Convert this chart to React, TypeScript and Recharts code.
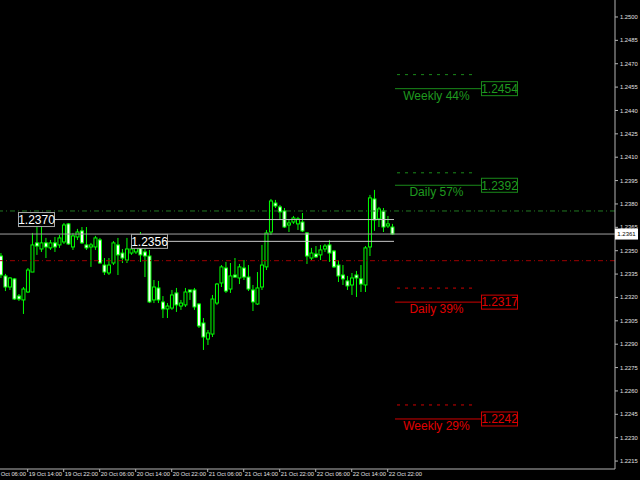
import React from 'react';
import { ComposedChart, Bar, XAxis, YAxis, ReferenceLine, ReferenceDot } from 'recharts';

// ---- candle data (hourly bars, 19 Oct 08:00 .. 22 Oct 23:00) ----
const opens = [1.23466, 1.23338, 1.23267, 1.23319, 1.23209, 1.23184, 1.23235, 1.23363, 1.23550, 1.23511,
  1.23550, 1.23518, 1.23550, 1.23537, 1.23556, 1.23672, 1.23524, 1.23588, 1.23627, 1.23537,
  1.23524, 1.23524, 1.23569, 1.23408, 1.23357, 1.23421, 1.23537, 1.23485, 1.23440, 1.23485,
  1.23492, 1.23530, 1.23492, 1.23466, 1.23184, 1.23261, 1.23171, 1.23126, 1.23132, 1.23229,
  1.23145, 1.23152, 1.23248, 1.23248, 1.23158, 1.23036, 1.22933, 1.22965, 1.23164, 1.23293,
  1.23389, 1.23254, 1.23344, 1.23325, 1.23389, 1.23331, 1.23248, 1.23158, 1.23267, 1.23396,
  1.23620, 1.23806, 1.23781, 1.23755, 1.23665, 1.23684, 1.23672, 1.23684, 1.23614, 1.23453,
  1.23479, 1.23473, 1.23511, 1.23537, 1.23498, 1.23408, 1.23344, 1.23306, 1.23280, 1.23344,
  1.23319, 1.23280, 1.23524, 1.23832, 1.23704, 1.23755, 1.23659, 1.23652];
const highs = [1.23485, 1.23351, 1.23331, 1.23325, 1.23222, 1.23267, 1.23389, 1.23614, 1.23665, 1.23678,
  1.23582, 1.23569, 1.23588, 1.23601, 1.23678, 1.23678, 1.23614, 1.23640, 1.23652, 1.23652,
  1.23550, 1.23595, 1.23582, 1.23453, 1.23453, 1.23562, 1.23582, 1.23511, 1.23582, 1.23543,
  1.23569, 1.23620, 1.23511, 1.23505, 1.23312, 1.23306, 1.23209, 1.23164, 1.23248, 1.23261,
  1.23184, 1.23261, 1.23248, 1.23261, 1.23164, 1.23068, 1.22991, 1.23216, 1.23293, 1.23408,
  1.23428, 1.23421, 1.23453, 1.23415, 1.23440, 1.23408, 1.23280, 1.23363, 1.23537, 1.23633,
  1.23832, 1.23826, 1.23794, 1.23774, 1.23697, 1.23723, 1.23717, 1.23742, 1.23620, 1.23518,
  1.23530, 1.23537, 1.23543, 1.23569, 1.23505, 1.23440, 1.23408, 1.23338, 1.23357, 1.23370,
  1.23408, 1.23530, 1.23858, 1.23890, 1.23781, 1.23774, 1.23723, 1.23672];
const lows = [1.23325, 1.23241, 1.23248, 1.23184, 1.23177, 1.23094, 1.23229, 1.23363, 1.23473, 1.23492,
  1.23453, 1.23505, 1.23492, 1.23518, 1.23543, 1.23537, 1.23505, 1.23569, 1.23543, 1.23505,
  1.23396, 1.23505, 1.23415, 1.23344, 1.23344, 1.23408, 1.23344, 1.23421, 1.23421, 1.23473,
  1.23479, 1.23428, 1.23331, 1.23164, 1.23164, 1.23164, 1.23068, 1.23068, 1.23120, 1.23107,
  1.23120, 1.23139, 1.23184, 1.23120, 1.23004, 1.22863, 1.22895, 1.22946, 1.23152, 1.23267,
  1.23229, 1.23229, 1.23325, 1.23286, 1.23312, 1.23241, 1.23113, 1.23152, 1.23248, 1.23376,
  1.23601, 1.23774, 1.23697, 1.23646, 1.23620, 1.23672, 1.23633, 1.23620, 1.23415, 1.23440,
  1.23453, 1.23440, 1.23492, 1.23428, 1.23389, 1.23299, 1.23280, 1.23248, 1.23216, 1.23203,
  1.23235, 1.23235, 1.23466, 1.23627, 1.23652, 1.23620, 1.23646, 1.23601];
const closes = [1.23344, 1.23267, 1.23325, 1.23190, 1.23190, 1.23254, 1.23376, 1.23537, 1.23530, 1.23550,
  1.23524, 1.23550, 1.23524, 1.23582, 1.23665, 1.23543, 1.23595, 1.23620, 1.23550, 1.23518,
  1.23537, 1.23582, 1.23421, 1.23363, 1.23408, 1.23550, 1.23473, 1.23453, 1.23511, 1.23511,
  1.23524, 1.23473, 1.23466, 1.23171, 1.23267, 1.23184, 1.23126, 1.23145, 1.23216, 1.23152,
  1.23164, 1.23235, 1.23235, 1.23139, 1.23017, 1.22946, 1.22972, 1.23190, 1.23286, 1.23396,
  1.23241, 1.23338, 1.23331, 1.23396, 1.23331, 1.23254, 1.23171, 1.23261, 1.23408, 1.23614,
  1.23819, 1.23787, 1.23749, 1.23652, 1.23678, 1.23710, 1.23704, 1.23627, 1.23466, 1.23485,
  1.23460, 1.23505, 1.23530, 1.23485, 1.23396, 1.23338, 1.23319, 1.23274, 1.23325, 1.23325,
  1.23286, 1.23518, 1.23839, 1.23697, 1.23768, 1.23652, 1.23672, 1.23607];

// ---- axes ----
const xTickIdx = [-2, 6, 14, 22, 30, 38, 46, 54, 62, 70, 78, 86];
const xTickLabels = ['19 Oct 06:00', '19 Oct 14:00', '19 Oct 22:00', '20 Oct 06:00', '20 Oct 14:00', '20 Oct 22:00',
  '21 Oct 06:00', '21 Oct 14:00', '21 Oct 22:00', '22 Oct 06:00', '22 Oct 14:00', '22 Oct 22:00'];
const yTicks = [1.2215, 1.2230, 1.2245, 1.2260, 1.2275, 1.2290, 1.2305, 1.2320, 1.2335, 1.2350,
  1.2365, 1.2380, 1.2395, 1.2410, 1.2425, 1.2440, 1.2455, 1.2470, 1.2485, 1.2500];
const X_DOMAIN: [number, number] = [-0.156, 136.51];
const Y_DOMAIN: [number, number] = [1.22099, 1.25109];

// ---- horizontal levels ----
const currentPrice = 1.23607;
const upperDashPrice = 1.23755;
const lowerDashPrice = 1.23436;
const tagPrices = [1.2370, 1.2356];
const tagStart = [3.84, 28.96];
const tagLineStart = [11.84, 37.2];
const tagLineEnd = 87.4;

const levelLabels = ['Weekly 44%', 'Daily 57%', 'Daily 39%', 'Weekly 29%'];
const levelPrices = [1.2454, 1.2392, 1.2317, 1.2242];
const levelDashPrices = [1.2463, 1.2400, 1.2326, 1.2251];
const levelColors = ['#1f9a1f', '#1f9a1f', '#e00000', '#e00000'];
const levelLineColors = ['#1a8a1a', '#1a8a1a', '#d00000', '#d00000'];

const data = opens.map((o, i) => ({
  i,
  open: o,
  high: highs[i],
  low: lows[i],
  close: closes[i],
  range: [lows[i], highs[i]],
}));

const FONT = '"Liberation Sans", Arial, sans-serif';
const CANDLE = '#00ff00';

const Candle = (props: any) => {
  const { x, y, width, height, payload } = props;
  if (!payload) return null;
  const { open, close, high, low } = payload;
  const cx = x + width / 2;
  const top = Math.min(y, y + height);
  const h = Math.abs(height);
  const range = high - low || 1e-9;
  const py = (p: number) => top + ((high - p) / range) * h;
  const bTop = py(Math.max(open, close));
  const bBot = py(Math.min(open, close));
  const bull = close >= open;
  return (
    <g>
      <line x1={cx} x2={cx} y1={top} y2={top + h} stroke={CANDLE} strokeWidth={1} />
      <rect x={cx - 1.5} y={bTop} width={3} height={Math.max(bBot - bTop, 0.6)}
        fill={bull ? '#000' : '#fff'} stroke={CANDLE} strokeWidth={1} />
    </g>
  );
};

const XTick = (props: any) => {
  const { x, y, payload } = props;
  const k = xTickIdx.indexOf(payload.value);
  return (
    <text x={x + 1} y={y} dy="0.71em" textAnchor="start" fill="#e0e0e0" fontSize={5.8} fontFamily={FONT}>
      {k >= 0 ? xTickLabels[k] : ''}
    </text>
  );
};

const YTick = (props: any) => {
  const { x, y, payload } = props;
  return (
    <text x={x} y={y} dy="0.35em" textAnchor="start" fill="#e0e0e0" fontSize={5.8} fontFamily={FONT}>
      {payload.value.toFixed(4)}
    </text>
  );
};

const makeTag = (text: string, stroke: string, fill: string, color: string, w: number, h: number, fs: number) =>
  (p: any) => (
    <g>
      <rect x={p.cx + 0.5} y={p.cy - h / 2} width={w} height={h} fill={fill} stroke={stroke} strokeWidth={1} />
      <text x={p.cx + 0.5 + w / 2} y={p.cy} dy="0.36em" textAnchor="middle" fill={color} fontSize={fs} fontFamily={FONT}>
        {text}
      </text>
    </g>
  );

const makeLevelText = (text: string, color: string) =>
  (p: any) => (
    <text x={p.cx} y={p.cy + 11} textAnchor="middle" fill={color} fontSize={12} fontFamily={FONT}>
      {text}
    </text>
  );

export default function App() {
  return (
    <div style={{ position: 'absolute', left: 0, top: 0, width: 640, height: 480, background: '#000' }}>
      <ComposedChart width={640} height={480} data={data} margin={{ top: 0, right: 0, bottom: 0, left: 0 }}>
        <XAxis
          type="number"
          dataKey="i"
          domain={X_DOMAIN}
          allowDataOverflow
          ticks={xTickIdx}
          interval={0}
          height={11}
          tickSize={3}
          tickMargin={0}
          stroke="#b4b4b4"
          tick={<XTick />}
        />
        <YAxis
          orientation="right"
          type="number"
          domain={Y_DOMAIN}
          allowDataOverflow
          ticks={yTicks}
          interval={0}
          width={25}
          tickSize={3}
          tickMargin={2}
          stroke="#b4b4b4"
          tick={<YTick />}
        />
        <ReferenceLine y={upperDashPrice} stroke="#217821" strokeDasharray="5 3 1 3" />
        <ReferenceLine y={lowerDashPrice} stroke="#9b0000" strokeDasharray="5 3 1 3" />
        <ReferenceLine y={currentPrice} stroke="#a0a0a0" />
        {tagPrices.map((p, k) => (
          <ReferenceLine key={'tl' + k} segment={[{ x: tagLineStart[k], y: p }, { x: tagLineEnd, y: p }]} stroke="#c8c8c8" />
        ))}
        {levelPrices.map((p, k) => (
          <ReferenceLine key={'lv' + k} segment={[{ x: 87.62, y: p }, { x: 106.73, y: p }]} stroke={levelLineColors[k]} />
        ))}
        {levelDashPrices.map((p, k) => (
          <ReferenceLine key={'ld' + k} segment={[{ x: 88.07, y: p }, { x: 105.84, y: p }]} stroke={levelLineColors[k]} strokeDasharray="3 5" />
        ))}
        <Bar dataKey="range" barSize={3} shape={<Candle />} isAnimationActive={false} />
        {tagPrices.map((p, k) => (
          <ReferenceDot key={'td' + k} x={tagStart[k]} y={p} r={0}
            shape={makeTag(p.toFixed(4), '#a8a8a8', '#000', '#ffffff', 36, 14, 12)} />
        ))}
        {levelPrices.map((p, k) => (
          <ReferenceDot key={'lt' + k} x={106.73} y={p} r={0}
            shape={makeTag(p.toFixed(4), levelLineColors[k], '#000', levelColors[k], 36, 14, 12)} />
        ))}
        {levelPrices.map((p, k) => (
          <ReferenceDot key={'lx' + k} x={96.84} y={p} r={0} shape={makeLevelText(levelLabels[k], levelColors[k])} />
        ))}
        <ReferenceDot x={X_DOMAIN[1]} y={currentPrice} r={0} ifOverflow="visible"
          shape={makeTag(currentPrice.toFixed(4), '#ffffff', '#ffffff', '#000000', 22, 10, 6)} />
      </ComposedChart>
    </div>
  );
}
